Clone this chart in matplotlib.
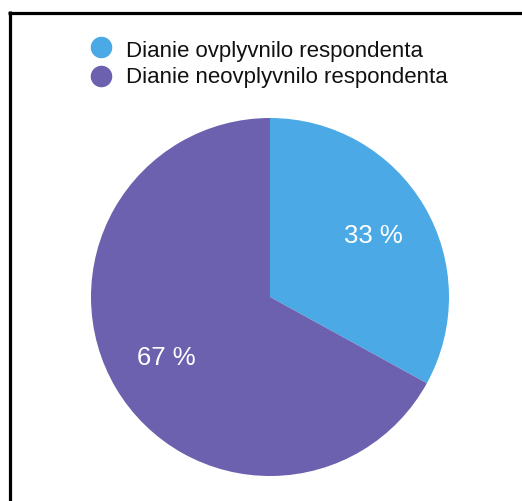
import matplotlib.pyplot as plt
from matplotlib.lines import Line2D

plt.rcParams['font.family'] = ['Liberation Sans', 'DejaVu Sans']

labels = ["Dianie ovplyvnilo respondenta", "Dianie neovplyvnilo respondenta"]
values = [33, 67]
colors = ["#4BA9E6", "#6C61AF"]

fig = plt.figure(figsize=(5.22, 5.01), dpi=100)
ax = fig.add_axes([91/522, 25/501, 358/522, 358/501])

wedges, texts, autotexts = ax.pie(values, colors=colors, startangle=90, counterclock=False,
                                  autopct=lambda p: "%d %%" % round(p), pctdistance=0.67,
                                  wedgeprops=dict(linewidth=0))
for t in autotexts:
    t.set_color("white")
    t.set_fontsize(18.5)
ax.set_xlim(-1, 1)
ax.set_ylim(-1, 1)

# legenda nahore
for i in range(len(labels)):
    yc = 1 - (47.3 + i*28.2)/501
    yb = 1 - (56.7 + i*26.3)/501
    fig.add_artist(Line2D([100.5/522], [yc], marker="o", markersize=14.5, color=colors[i],
                          transform=fig.transFigure, linestyle="none"))
    fig.text(126/522, yb, labels[i], fontsize=16, va="baseline", ha="left", color="#111111")

# ramik
fig.add_artist(Line2D([8/522, 1], [1 - 12.5/501, 1 - 12.5/501], color="black", lw=2.3,
                      transform=fig.transFigure, solid_capstyle="butt"))
fig.add_artist(Line2D([9.5/522, 9.5/522], [0, 1 - 11/501], color="black", lw=2.3,
                      transform=fig.transFigure, solid_capstyle="butt"))

fig.savefig("out.png", dpi=100)
